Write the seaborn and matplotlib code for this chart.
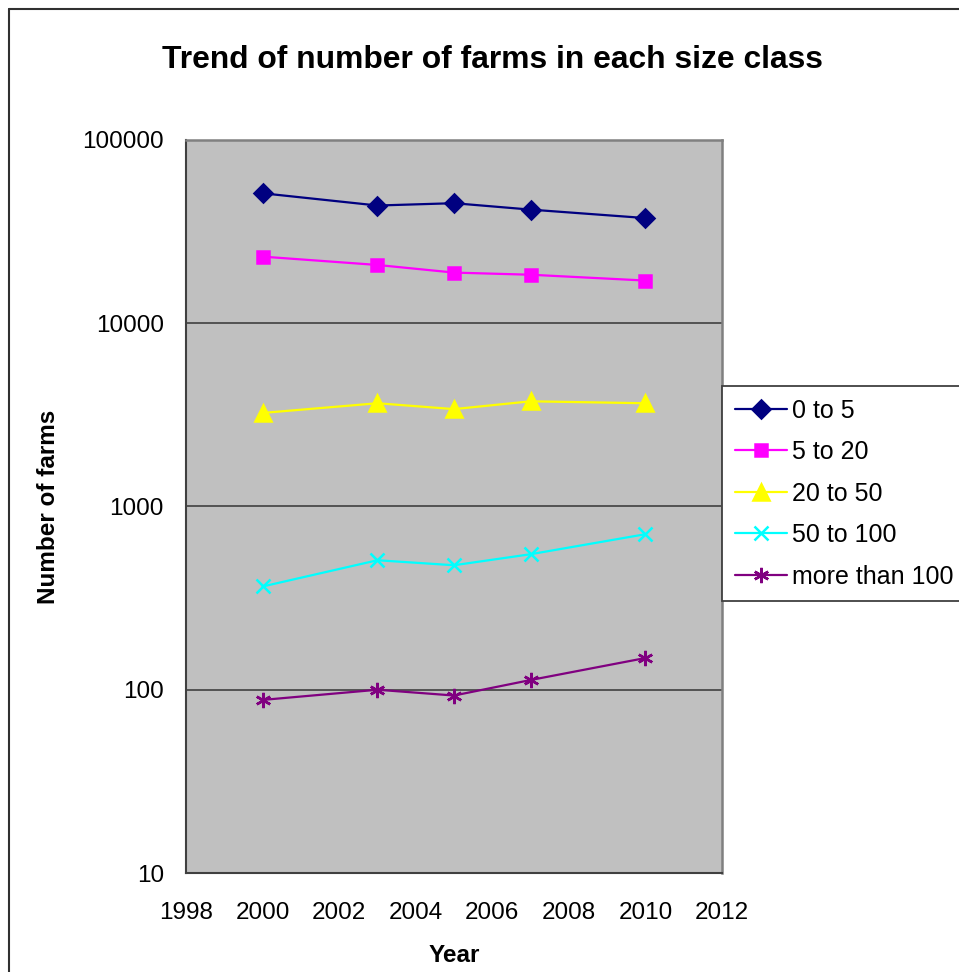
import numpy as np
import pandas as pd
import matplotlib
matplotlib.use('Agg')
import matplotlib.pyplot as plt
from matplotlib.lines import Line2D
from matplotlib.ticker import FixedLocator, FuncFormatter, NullLocator
import seaborn as sns

# data
years = [2000, 2003, 2005, 2007, 2010]
size_classes = ['0 to 5', '5 to 20', '20 to 50', '50 to 100', 'more than 100']
farms_0_5 = [51200, 43900, 45200, 41700, 37500]
farms_5_20 = [23100, 20800, 18900, 18400, 17100]
farms_20_50 = [3240, 3660, 3400, 3750, 3660]
farms_50_100 = [366, 509, 478, 549, 706]
farms_100_plus = [88, 100, 93, 113, 149]

x_ticks = [1998, 2000, 2002, 2004, 2006, 2008, 2010, 2012]
y_ticks = [10, 100, 1000, 10000, 100000]

all_values = [farms_0_5, farms_5_20, farms_20_50, farms_50_100, farms_100_plus]
df = pd.DataFrame({
    'Year': years * len(size_classes),
    'Farms': [v for vals in all_values for v in vals],
    'Size': [s for s in size_classes for _ in years],
})

# Excel-like styling per series
colors = ['#000080', '#FF00FF', '#FFFF00', '#00FFFF', '#800080']
markers = ['D', 's', '^', 'x', (6, 2, 0)]
msizes = [9, 8.5, 11, 10, 11]

sns.set_style('white')
plt.rcParams['font.family'] = ['Liberation Sans', 'DejaVu Sans']
plt.rcParams['text.color'] = 'black'
plt.rcParams['axes.labelcolor'] = 'black'

fig = plt.figure(figsize=(9.59, 9.72), dpi=100)
ax = fig.add_axes([186 / 959, 1 - 873 / 972, (722 - 186) / 959, (873 - 140) / 972])
ax.set_facecolor('#C0C0C0')

for size, color, marker, ms in zip(size_classes, colors, markers, msizes):
    sub = df[df['Size'] == size]
    sns.lineplot(data=sub, x='Year', y='Farms', ax=ax, color=color, marker=marker,
                 markersize=ms, markeredgecolor=color, markeredgewidth=1.8,
                 linewidth=1.6, label=size, legend=False)

ax.set_yscale('log')
ax.set_ylim(10, 100000)
ax.set_xlim(1998, 2012)
ax.xaxis.set_major_locator(FixedLocator(x_ticks))
ax.yaxis.set_major_locator(FixedLocator(y_ticks))
ax.yaxis.set_minor_locator(NullLocator())
ax.yaxis.set_major_formatter(FuncFormatter(lambda v, p: f'{int(round(v))}'))
ax.grid(axis='y', color='#4a4a4a', linewidth=1.3)
ax.grid(axis='x', visible=False)
ax.set_axisbelow(True)

ax.tick_params(axis='both', labelsize=17.5, labelcolor='black', color='#404040',
               direction='out', length=7, width=1.3)
ax.tick_params(axis='y', pad=9)
ax.tick_params(axis='x', pad=14)
for side in ['left', 'bottom']:
    ax.spines[side].set_color('#404040')
    ax.spines[side].set_linewidth(1.5)
for side in ['top', 'right']:
    ax.spines[side].set_color('#808080')
    ax.spines[side].set_linewidth(1.8)

ax.set_xlabel('Year', fontsize=17.5, fontweight='bold', labelpad=14)
ax.set_ylabel('Number of farms', fontsize=17.5, fontweight='bold', labelpad=16)

fig.text(492 / 959, 1 - 60 / 972, 'Trend of number of farms in each size class',
         ha='center', va='center', fontsize=22.9, fontweight='bold')

# legend sits against the right edge like the reference
handles, labels = ax.get_legend_handles_labels()
leg = fig.legend(handles, labels, loc='upper left',
                 bbox_to_anchor=(722 / 959, 1 - 386 / 972), borderaxespad=0,
                 fontsize=18, frameon=True, fancybox=False, framealpha=1,
                 edgecolor='#404040', handlelength=2.1, handletextpad=0.2,
                 labelspacing=0.70, borderpad=0.5)
leg.get_frame().set_linewidth(1.3)

# outer chart frame (left and top edges visible)
fig.add_artist(Line2D([9 / 959, 9 / 959], [0, 1 - 9 / 972], transform=fig.transFigure,
                      color='#303030', linewidth=1.5))
fig.add_artist(Line2D([9 / 959, 1], [1 - 9 / 972, 1 - 9 / 972], transform=fig.transFigure,
                      color='#303030', linewidth=1.5))

fig.savefig('out.png', dpi=100)
